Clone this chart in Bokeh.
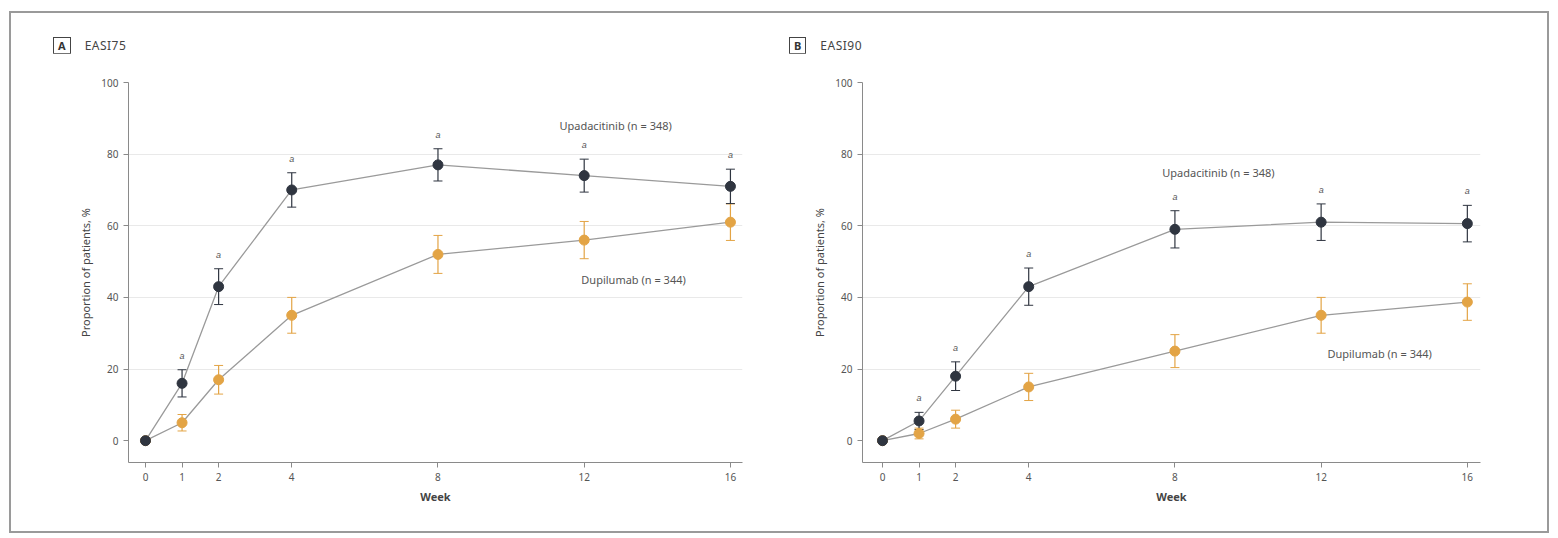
from bokeh.plotting import figure
from bokeh.layouts import row, column
from bokeh.models import FixedTicker, Label, Whisker, ColumnDataSource, Div
from bokeh.embed import file_html
from bokeh.resources import INLINE

weeks = [0, 1, 2, 4, 8, 12, 16]
y_ticks = [0, 20, 40, 60, 80, 100]

# Panel A: EASI75
a_upa = [0, 16, 43, 70, 77, 74, 71]
a_upa_ci = [0, 3.8, 5.0, 4.8, 4.5, 4.6, 4.8]
a_dup = [0, 5, 17, 35, 52, 56, 61]
a_dup_ci = [0, 2.3, 4.0, 5.0, 5.3, 5.2, 5.1]

# Panel B: EASI90
b_upa = [0, 5.5, 18, 43, 59, 61, 60.6]
b_upa_ci = [0, 2.4, 4.0, 5.2, 5.2, 5.1, 5.1]
b_dup = [0, 2, 6, 15, 25, 35, 38.7]
b_dup_ci = [0, 1.5, 2.5, 3.8, 4.6, 5.0, 5.1]

upa_label = "Upadacitinib (n = 348)"
dup_label = "Dupilumab (n = 344)"
sig_mark = ["", "a", "a", "a", "a", "a", "a"]

FONT = "Noto Sans"
UPA_C = "#2f3540"
DUP_C = "#e3a445"
LINE_C = "#9a9a9a"
HEAD_H = 40
FIG_H = 518 - HEAD_H


def panel(letter, title, upa, upa_ci, dup, dup_ci, x_start, x_end, bl, br,
          upa_pos, dup_pos):
    p = figure(width=768, height=FIG_H, x_range=(x_start, x_end), y_range=(-6.1, 100),
               output_backend="svg", toolbar_location=None,
               min_border_left=bl, min_border_right=br, min_border_top=29,
               min_border_bottom=FIG_H - 29 - 380)
    p.outline_line_color = None
    p.xgrid.grid_line_color = None
    p.ygrid.grid_line_color = "#e9e9e9"
    p.ygrid.ticker = FixedTicker(ticks=[20, 40, 60, 80])
    p.xaxis.ticker = FixedTicker(ticks=weeks)
    p.yaxis.ticker = FixedTicker(ticks=y_ticks)
    for ax in (p.xaxis[0], p.yaxis[0]):
        ax.axis_line_color = "#8a8a8a"
        ax.major_tick_line_color = "#8a8a8a"
        ax.minor_tick_line_color = None
        ax.major_tick_out = 5
        ax.major_tick_in = 0
        ax.major_label_text_font = FONT
        ax.major_label_text_font_size = "10px"
        ax.major_label_text_color = "#555555"
        ax.axis_label_text_font = FONT
        ax.axis_label_text_font_size = "11px"
        ax.axis_label_text_color = "#444444"
        ax.axis_label_text_font_style = "normal"
    p.xaxis.axis_label = "Week"
    p.xaxis.axis_label_text_font_style = "bold"
    p.yaxis.axis_label = "Proportion of patients, %"

    src_u = ColumnDataSource(dict(x=weeks, y=upa,
                                  lo=[v - c for v, c in zip(upa, upa_ci)],
                                  hi=[v + c for v, c in zip(upa, upa_ci)],
                                  ty=[v + c + 2.5 for v, c in zip(upa, upa_ci)],
                                  t=sig_mark))
    src_d = ColumnDataSource(dict(x=weeks, y=dup,
                                  lo=[v - c for v, c in zip(dup, dup_ci)],
                                  hi=[v + c for v, c in zip(dup, dup_ci)]))

    p.line("x", "y", source=src_d, line_color=LINE_C, line_width=1.3)
    p.line("x", "y", source=src_u, line_color=LINE_C, line_width=1.3)
    for src, col in ((src_d, DUP_C), (src_u, UPA_C)):
        w = Whisker(source=src, base="x", lower="lo", upper="hi",
                    line_color=col, line_width=1.2)
        w.upper_head.line_color = col
        w.lower_head.line_color = col
        w.upper_head.size = 9
        w.lower_head.size = 9
        p.add_layout(w)
    p.scatter("x", "y", source=src_d, size=10, fill_color=DUP_C, line_color=DUP_C)
    p.scatter("x", "y", source=src_u, size=10, fill_color=UPA_C, line_color=UPA_C)
    p.text("x", "ty", text="t", source=src_u, text_font_size="9px",
           text_color="#555555", text_align="center", text_baseline="bottom",
           text_font_style="italic")

    p.add_layout(Label(x=upa_pos[0], y=upa_pos[1], text=upa_label,
                       text_font=FONT, text_font_size="11px", text_color="#555555",
                       text_align="center", text_baseline="middle"))
    p.add_layout(Label(x=dup_pos[0], y=dup_pos[1], text=dup_label,
                       text_font=FONT, text_font_size="11px", text_color="#555555",
                       text_align="center", text_baseline="middle"))

    html = (f'<div style="margin-top:24px;margin-left:{letter[1]}px;'
            f'font-family:\'{FONT}\';font-size:12px;color:#444;'
            f'line-height:15px;white-space:nowrap;">'
            f'<span style="display:inline-block;border:1.3px solid #444;'
            f'padding:0 4px;font-weight:bold;font-size:11px;color:#333;">{letter[0]}</span>'
            f'<span style="margin-left:{title[1]}px;letter-spacing:0.5px;">{title[0]}</span></div>')
    head = Div(text=html, width=768, height=HEAD_H, margin=0)
    return column(head, p, spacing=0)


c1 = panel(("A", 42), ("EASI75", 14), a_upa, a_upa_ci, a_dup, a_dup_ci,
           -0.465, 16.33, 117, 37, (12.86, 88), (13.35, 45))
c2 = panel(("B", 10), ("EASI90", 14), b_upa, b_upa_ci, b_dup, b_dup_ci,
           -0.547, 16.36, 83, 67, (9.19, 74.9), (13.6, 24.3))

layout = row(c1, c2, spacing=0,
             styles={"border": "2px solid #9a9a9a", "margin-left": "9px",
                     "margin-top": "11px"})
open("out.html", "w").write(file_html(layout, INLINE))
